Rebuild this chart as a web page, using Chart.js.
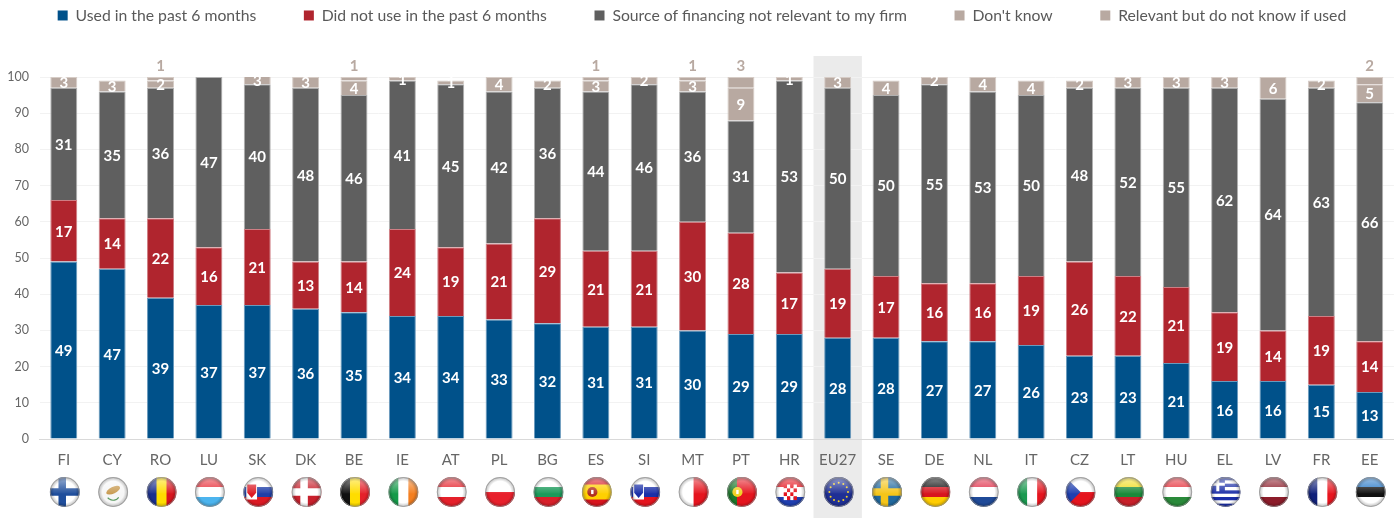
<!DOCTYPE html>
<html><head><meta charset="utf-8">
<style>html,body{margin:0;padding:0;background:#fff;overflow:hidden}#w{width:1396px;height:518px;position:relative}canvas{display:block}</style>
<script src="https://cdn.jsdelivr.net/npm/chart.js@4"></script>
</head><body><div id="w"><canvas id="c" width="1396" height="518"></canvas></div>
<script>
const categories=['FI','CY','RO','LU','SK','DK','BE','IE','AT','PL','BG','ES','SI','MT','PT','HR','EU27','SE','DE','NL','IT','CZ','LT','HU','EL','LV','FR','EE'];
const used=[49,47,39,37,37,36,35,34,34,33,32,31,31,30,29,29,28,28,27,27,26,23,23,21,16,16,15,13];
const notUsed=[17,14,22,16,21,13,14,24,19,21,29,21,21,30,28,17,19,17,16,16,19,26,22,21,19,14,19,14];
const notRelevant=[31,35,36,47,40,48,46,41,45,42,36,44,46,36,31,53,50,50,55,53,50,48,52,55,62,64,63,66];
const dontKnow=[3,3,2,null,3,3,4,1,1,4,2,3,2,3,9,1,3,4,2,4,4,2,3,3,3,6,2,5];
const relevantUnknown=[null,null,1,null,null,null,1,null,null,null,null,1,null,1,3,null,null,null,null,null,null,null,null,null,null,null,null,2];
const seriesNames=['Used in the past 6 months','Did not use in the past 6 months','Source of financing not relevant to my firm',"Don't know",'Relevant but do not know if used'];
const seriesColors=['#00518a','#b0252e','#5f5f5f','#b8a9a1','#b8a9a1'];
const seriesEdges=['#6a9abd','#cf7e84','#b0b0b0','#d6ccc6','#d6ccc6'];
const yTicks=[0,10,20,30,40,50,60,70,80,90,100];
const highlight='EU27';

const FLAGS={
 FI:{bg:'#ffffff',cross:['#1f4e9c']},CY:{bg:'#f6f6f6',island:true},RO:{v:['#1a2f8f','#ffdd00','#d8141e']},
 LU:{h:['#e8303a','#ffffff','#4cb4ee']},SK:{h:['#ffffff','#1f3fa8','#dc1a24'],shield:'#dc1a24'},
 DK:{bg:'#c8202c',cross:['#ffffff']},BE:{v:['#111111','#ffdd00','#e5202a']},IE:{v:['#149a49','#ffffff','#f47f20']},
 AT:{h:['#e5202a','#ffffff','#e5202a']},PL:{h:['#ffffff','#e8202c']},BG:{h:['#ffffff','#1a9a5a','#d8202a']},
 ES:{h:['#d8141e','#ffd000','#ffd000','#d8141e'],emblem:'#b03020'},SI:{h:['#ffffff','#1a2fa8','#e5141e'],shield:'#1a2fa8'},
 MT:{v:['#ffffff','#e5141e']},PT:{v:['#1a7a2a','#e5141e','#e5141e'],emblem:'#f0d020'},HR:{h:['#e5141e','#ffffff','#1f3fb0'],check:true},
 EU27:{bg:'#1f2f95',stars:true},SE:{bg:'#20699f',cross:['#f5c518']},DE:{h:['#111111','#d8141e','#ffcc00']},
 NL:{h:['#e0304a','#ffffff','#1f4a98']},IT:{v:['#1a9a50','#ffffff','#e5141e']},CZ:{h:['#ffffff','#e5141e'],tri:'#1f3fb0'},
 LT:{h:['#f0dc20','#1a8a3a','#c8202a']},HU:{h:['#e5303a','#ffffff','#2a8a3a']},EL:{greek:true},
 LV:{h:['#8c1c2a','#ffffff','#8c1c2a']},FR:{v:['#10207a','#ffffff','#e8141e']},EE:{h:['#2a7ac8','#111111','#ffffff']}
};

function drawFlag(ctx,code,cx,cy,r){
 const f=FLAGS[code];if(!f)return;
 ctx.save();ctx.beginPath();ctx.arc(cx,cy,r,0,Math.PI*2);ctx.clip();
 const x0=cx-r,y0=cy-r,d=2*r;
 ctx.fillStyle=f.bg||'#fff';ctx.fillRect(x0,y0,d,d);
 if(f.h)f.h.forEach((c,i)=>{ctx.fillStyle=c;ctx.fillRect(x0,y0+d*i/f.h.length,d,d/f.h.length+.5)});
 if(f.v)f.v.forEach((c,i)=>{ctx.fillStyle=c;ctx.fillRect(x0+d*i/f.v.length,y0,d/f.v.length+.5,d)});
 if(f.cross){ctx.fillStyle=f.cross[0];ctx.fillRect(x0,cy-r*.25,d,r*.5);ctx.fillRect(cx-r*.42,y0,r*.5,d)}
 if(f.tri){ctx.fillStyle=f.tri;ctx.beginPath();ctx.moveTo(x0,y0);ctx.lineTo(cx,cy);ctx.lineTo(x0,y0+d);ctx.fill()}
 if(f.shield){ctx.fillStyle='#fff';ctx.fillRect(x0+3,cy-r*.6,r*.72,r*1.1);ctx.fillStyle=f.shield;ctx.beginPath();ctx.moveTo(x0+4,cy-r*.5);ctx.lineTo(x0+3+r*.66,cy-r*.5);ctx.lineTo(x0+3+r*.66,cy+r*.05);ctx.lineTo(x0+3+r*.36,cy+r*.4);ctx.lineTo(x0+4,cy+r*.05);ctx.fill()}
 if(f.emblem){ctx.fillStyle=f.emblem;ctx.beginPath();ctx.arc(cx-r*.3,cy,r*.34,0,Math.PI*2);ctx.fill();ctx.fillStyle='#fff';ctx.fillRect(cx-r*.38,cy-r*.14,r*.16,r*.28)}
 if(f.check){for(let i=0;i<4;i++)for(let j=0;j<4;j++){ctx.fillStyle=(i+j)%2?'#fff':'#e5141e';ctx.fillRect(cx-r*.44+i*r*.22,cy-r*.5+j*r*.26,r*.22,r*.26)}}
 if(f.island){ctx.fillStyle='#c89a50';ctx.beginPath();ctx.ellipse(cx,cy-r*.12,r*.5,r*.22,-.45,0,Math.PI*2);ctx.fill();ctx.strokeStyle='#5a9a60';ctx.lineWidth=1.2;ctx.beginPath();ctx.arc(cx,cy+r*.1,r*.45,.6,2.5);ctx.stroke()}
 if(f.stars){ctx.fillStyle='#f5d020';for(let i=0;i<12;i++){const a=i*Math.PI/6;ctx.beginPath();ctx.arc(cx+Math.cos(a)*r*.62,cy+Math.sin(a)*r*.62,1,0,Math.PI*2);ctx.fill()}}
 if(f.greek){for(let i=0;i<9;i++){ctx.fillStyle=i%2?'#fff':'#1c2fa8';ctx.fillRect(x0,y0+d*i/9,d,d/9+.5)}ctx.fillStyle='#1c2fa8';ctx.fillRect(x0,y0,r*.95,r*.95);ctx.fillStyle='#fff';ctx.fillRect(x0,y0+r*.38,r*.95,r*.2);ctx.fillRect(x0+r*.38,y0,r*.2,r*.95)}
 let g=ctx.createLinearGradient(0,y0,0,cy+r*.1);g.addColorStop(0,'rgba(255,255,255,.55)');g.addColorStop(1,'rgba(255,255,255,.03)');
 ctx.fillStyle=g;ctx.fillRect(x0,y0,d,d*.55);
 g=ctx.createRadialGradient(cx,cy,r*.72,cx,cy,r);g.addColorStop(0,'rgba(0,0,0,0)');g.addColorStop(1,'rgba(0,0,0,.28)');
 ctx.fillStyle=g;ctx.fillRect(x0,y0,d,d);
 ctx.restore();
 ctx.strokeStyle='rgba(150,150,150,.75)';ctx.lineWidth=1;ctx.beginPath();ctx.arc(cx,cy,r-.5,0,Math.PI*2);ctx.stroke();
}

const bandPlugin={id:'band',beforeDraw(ch){
 const x=ch.scales.x,px=x.getPixelForValue(categories.indexOf(highlight)),w=x.getPixelForValue(1)-x.getPixelForValue(0);
 ch.ctx.fillStyle='#ebebeb';ch.ctx.fillRect(px-w/2,56,w,462);
}};
const labelPlugin={id:'labels',afterDatasetsDraw(ch){
 const ctx=ch.ctx,top=ch.chartArea.top;
 ctx.save();ctx.font='bold 15px Lato';ctx.textAlign='center';ctx.textBaseline='middle';
 ch.data.datasets.forEach((ds,di)=>{
  ch.getDatasetMeta(di).data.forEach((el,i)=>{
   const v=ds.data[i];if(v==null)return;
   if(di===4){ctx.fillStyle=seriesColors[4];ctx.fillText(v,el.x,top-10.5);return;}
   const t=Math.max(el.y,top);ctx.save();ctx.beginPath();ctx.rect(el.x-20,top-.5,40,ch.chartArea.height);ctx.clip();
   ctx.fillStyle='#fff';ctx.fillText(v,el.x,(t+el.base)/2+1);ctx.restore();
  });
 });
 ctx.restore();
}};
const flagPlugin={id:'flags',afterDraw(ch){
 categories.forEach((c,i)=>drawFlag(ch.ctx,c,ch.scales.x.getPixelForValue(i)+1,492,15));
}};
const legendShift={id:'legendShift',afterLayout(ch){
 const l=ch.legend;l.top=-40;l.bottom=40;l.left+=5;l.right+=5;
}};

new Chart(document.getElementById('c'),{
 type:'bar',
 data:{labels:categories,datasets:[used,notUsed,notRelevant,dontKnow,relevantUnknown].map((d,i)=>({
  label:seriesNames[i],data:d,backgroundColor:seriesColors[i],borderColor:seriesEdges[i],
  borderWidth:{left:1,right:1,top:1,bottom:0},borderSkipped:false,stack:'s',categoryPercentage:1,barPercentage:.558}))},
 plugins:[bandPlugin,labelPlugin,flagPlugin,legendShift],
 options:{responsive:false,animation:false,
  layout:{padding:{left:0,right:2.1,top:3.65,bottom:0}},
  plugins:{tooltip:{enabled:false},title:{display:false},
   legend:{display:true,position:'top',labels:{boxWidth:10,boxHeight:10,padding:47.6,color:'#595959',font:{family:'Lato',size:15.75},
    generateLabels(ch){return ch.data.datasets.map((d,i)=>({text:d.label,fillStyle:seriesColors[i],strokeStyle:seriesColors[i],lineWidth:0,fontColor:'#595959',datasetIndex:i}))}}}},
  scales:{
   x:{stacked:true,grid:{display:false,drawTicks:false},border:{color:'#d9d9d9',width:1},
      ticks:{color:'#666666',font:{family:'Lato',size:15},padding:12,autoSkip:false,maxRotation:0},
      afterFit(s){s.height=79}},
   y:{stacked:true,min:0,max:100,grid:{color:'#f2f2f2',drawTicks:false},border:{display:false},
      afterBuildTicks(s){s.ticks=yTicks.map(v=>({value:v}))},
      ticks:{color:'#666666',font:{family:'Lato',size:12.5},padding:10.5},
      afterFit(s){s.width=39.6}}
  }}
});
</script></body></html>
